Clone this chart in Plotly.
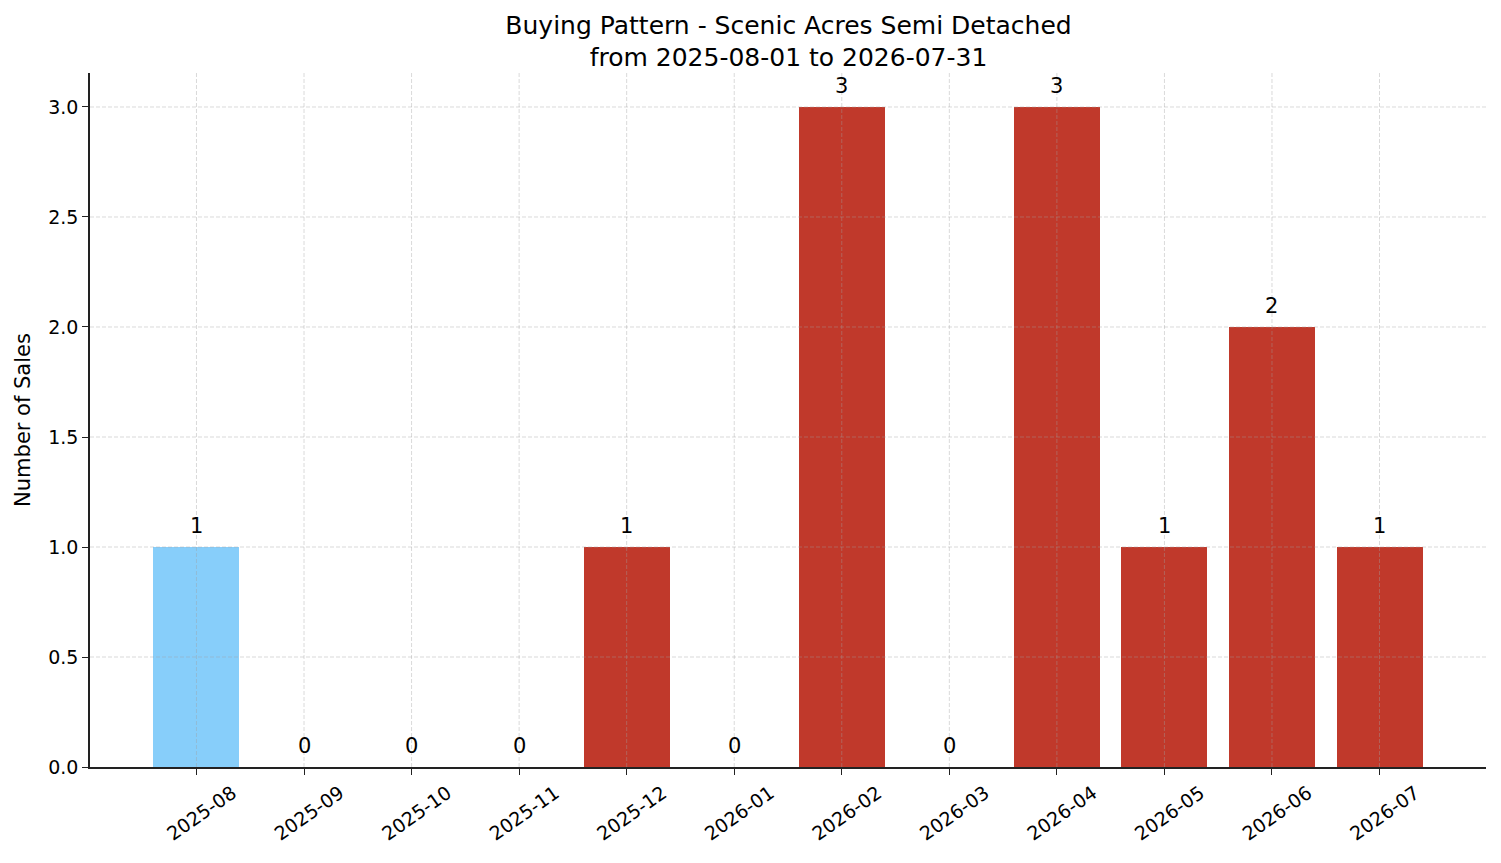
import plotly.graph_objects as go

# Monthly sales data
months = ["2025-08", "2025-09", "2025-10", "2025-11", "2025-12", "2026-01",
          "2026-02", "2026-03", "2026-04", "2026-05", "2026-06", "2026-07"]
sales = [1, 0, 0, 0, 1, 0, 3, 0, 3, 1, 2, 1]
bar_colors = ["#87CEFA"] + ["#C0392B"] * 11
yticks = [0, 0.5, 1.0, 1.5, 2.0, 2.5, 3.0]

xpos = list(range(len(months)))
XMIN, XMAX = -0.99, 11.99
YMAX = 3.1545
GRID = "rgba(160,160,160,0.5)"

fig = go.Figure()

fig.add_trace(go.Bar(
    x=xpos,
    y=sales,
    width=0.8,
    marker=dict(color=bar_colors, line=dict(width=0)),
    showlegend=False,
))

# value labels above each bar
for i, v in zip(xpos, sales):
    fig.add_annotation(x=i, y=v, text=str(v), showarrow=False,
                       yanchor="bottom", yshift=7,
                       font=dict(size=21, color="black"))

# dashed grid drawn over the bars (like matplotlib's grid)
for i in xpos:
    fig.add_shape(type="line", x0=i, x1=i, y0=0, y1=YMAX, layer="above",
                  line=dict(color=GRID, width=0.8, dash="4px,2px"))
for t in yticks[1:]:
    fig.add_shape(type="line", x0=XMIN, x1=XMAX, y0=t, y1=t, layer="above",
                  line=dict(color=GRID, width=0.8, dash="4px,2px"))

fig.update_layout(
    width=1501, height=863,
    paper_bgcolor="white",
    plot_bgcolor="white",
    font=dict(family="DejaVu Sans", size=19, color="black"),
    title=dict(
        text="Buying Pattern - Scenic Acres Semi Detached<br>from 2025-08-01 to 2026-07-31",
        x=0.52, xanchor="center", y=0.97, yanchor="top",
        font=dict(size=25),
    ),
    margin=dict(l=82, r=23, t=65, b=104),
    bargap=0,
)

fig.update_xaxes(
    range=[XMIN, XMAX],
    tickmode="array",
    tickvals=xpos,
    ticktext=months,
    tickangle=-35,
    tickfont=dict(size=19),
    ticklabelshift=36,
    ticks="outside", ticklen=6, tickwidth=1.3, tickcolor="#222",
    showline=True, linecolor="#222", linewidth=1.5,
    showgrid=False,
    zeroline=False,
    automargin=False,
)

fig.update_yaxes(
    range=[0, YMAX],
    tickvals=yticks,
    ticktext=["0.0", "0.5", "1.0", "1.5", "2.0", "2.5", "3.0"],
    tickfont=dict(size=19),
    ticks="outside", ticklen=6, tickwidth=1.3, tickcolor="#222",
    showline=True, linecolor="#222", linewidth=1.5,
    showgrid=False,
    zeroline=False,
    automargin=False,
    title=dict(text="Number of Sales", font=dict(size=21), standoff=12),
)

fig.write_html("out.html")
